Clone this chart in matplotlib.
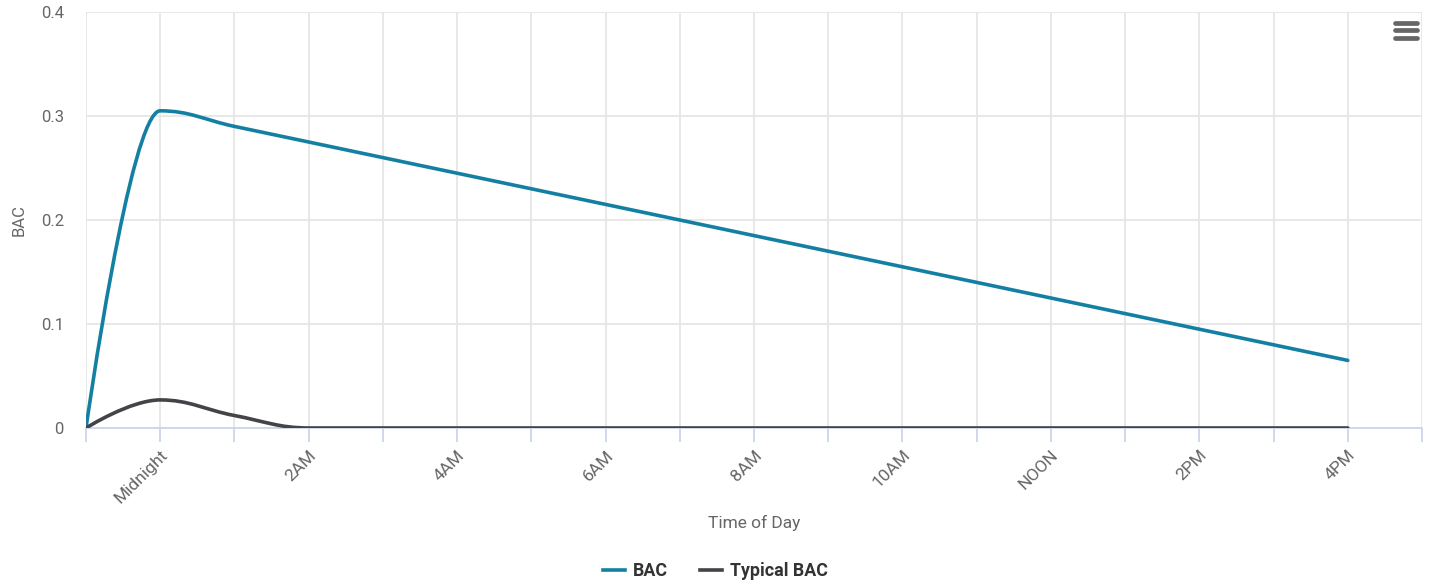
import matplotlib
matplotlib.use("Agg")
import matplotlib.pyplot as plt
from matplotlib.path import Path
from matplotlib.patches import PathPatch
from matplotlib.lines import Line2D

plt.rcParams['font.family'] = ['Roboto', 'DejaVu Sans']

# hourly samples from 11PM through 4PM; the axis runs one extra hour to 5PM
hours = ['11PM', 'Midnight', '1AM', '2AM', '3AM', '4AM', '5AM', '6AM', '7AM', '8AM',
         '9AM', '10AM', '11AM', 'NOON', '1PM', '2PM', '3PM', '4PM', '5PM']
bac = [0, 0.305, 0.29, 0.275, 0.26, 0.245, 0.23, 0.215, 0.2, 0.185,
       0.17, 0.155, 0.14, 0.125, 0.11, 0.095, 0.08, 0.065]
typical_bac = [0, 0.027, 0.012, 0, 0, 0, 0, 0, 0, 0,
               0, 0, 0, 0, 0, 0, 0, 0]
y_ticks = [0, 0.1, 0.2, 0.3, 0.4]
y_tick_labels = ['0', '0.1', '0.2', '0.3', '0.4']

BAC_COLOR = '#1380a3'
TYPICAL_COLOR = '#434348'
GRID = '#e6e6e6'
AXIS = '#ccd6eb'
TEXT = '#666666'


def spline_path(xs, ys, smoothing=1.5):
    """Cubic bezier path through the points, same control scheme as a Highcharts spline."""
    denom = smoothing + 1
    n = len(xs)
    left = [None] * n
    right = [None] * n
    for i in range(1, n - 1):
        x, y = xs[i], ys[i]
        px, py = xs[i - 1], ys[i - 1]
        nx, ny = xs[i + 1], ys[i + 1]
        lcx = (smoothing * x + px) / denom
        lcy = (smoothing * y + py) / denom
        rcx = (smoothing * x + nx) / denom
        rcy = (smoothing * y + ny) / denom
        if rcx != lcx:
            corr = (rcy - lcy) * (rcx - x) / (rcx - lcx) + y - rcy
            lcy += corr
            rcy += corr
        if lcy > py and lcy > y:
            lcy = max(py, y)
            rcy = 2 * y - lcy
        elif lcy < py and lcy < y:
            lcy = min(py, y)
            rcy = 2 * y - lcy
        if rcy > ny and rcy > y:
            rcy = max(ny, y)
            lcy = 2 * y - rcy
        elif rcy < ny and rcy < y:
            rcy = min(ny, y)
            lcy = 2 * y - rcy
        left[i] = (lcx, lcy)
        right[i] = (rcx, rcy)
    verts = [(xs[0], ys[0])]
    codes = [Path.MOVETO]
    for i in range(1, n):
        c1 = right[i - 1] if right[i - 1] is not None else (xs[i - 1], ys[i - 1])
        c2 = left[i] if left[i] is not None else (xs[i], ys[i])
        verts += [c1, c2, (xs[i], ys[i])]
        codes += [Path.CURVE4] * 3
    return Path(verts, codes)


fig = plt.figure(figsize=(14.31, 5.84), dpi=100)
ax = fig.add_axes([86 / 1431, 156 / 584, 1336 / 1431, 416 / 584])

x_idx = list(range(len(hours)))
for series, color in [(bac, BAC_COLOR), (typical_bac, TYPICAL_COLOR)]:
    p = spline_path(x_idx[:len(series)], series)
    ax.add_patch(PathPatch(p, facecolor='none', edgecolor=color, lw=2.6,
                           capstyle='round', joinstyle='round', zorder=3))

ax.set_xlim(0, len(hours) - 1)
ax.set_ylim(0, 0.4)

ax.set_xticks(x_idx)
ax.set_xticklabels([h if i % 2 == 1 else '' for i, h in enumerate(hours)],
                   rotation=45, ha='right', va='top', rotation_mode='anchor',
                   fontsize=12.5, color=TEXT)
ax.set_yticks(y_ticks)
ax.set_yticklabels(y_tick_labels, fontsize=12, color=TEXT)

ax.grid(True, color=GRID, lw=1.3, zorder=0)
ax.set_axisbelow(True)
for side in ['top', 'right', 'left']:
    ax.spines[side].set_visible(False)
ax.spines['bottom'].set_color(AXIS)
ax.spines['bottom'].set_linewidth(1.3)

ax.tick_params(axis='x', length=10, width=1.3, color=AXIS, pad=4)
ax.tick_params(axis='y', length=0, pad=16)

ax.set_xlabel('Time of Day', fontsize=12.5, color=TEXT, labelpad=6)
ax.set_ylabel('BAC', fontsize=12, color=TEXT, labelpad=10)

handles = [Line2D([], [], color=BAC_COLOR, lw=2.6),
           Line2D([], [], color=TYPICAL_COLOR, lw=2.6)]
leg = fig.legend(handles, ['BAC', 'Typical BAC'], loc='center', bbox_to_anchor=(0.5, 13 / 584),
                 ncol=2, frameon=False, handlelength=1.25, handletextpad=0.45,
                 columnspacing=1.8, prop={'weight': 'bold', 'size': 12.8})
for t in leg.get_texts():
    t.set_color('#333333')

# context menu icon in the top right corner
for yy in [22.5, 30.2, 37.8]:
    fig.add_artist(Line2D([1395 / 1431, 1417 / 1431], [1 - yy / 584, 1 - yy / 584],
                          color=TEXT, lw=3.4, solid_capstyle='round'))

fig.savefig('out.png', dpi=100, facecolor='white')
